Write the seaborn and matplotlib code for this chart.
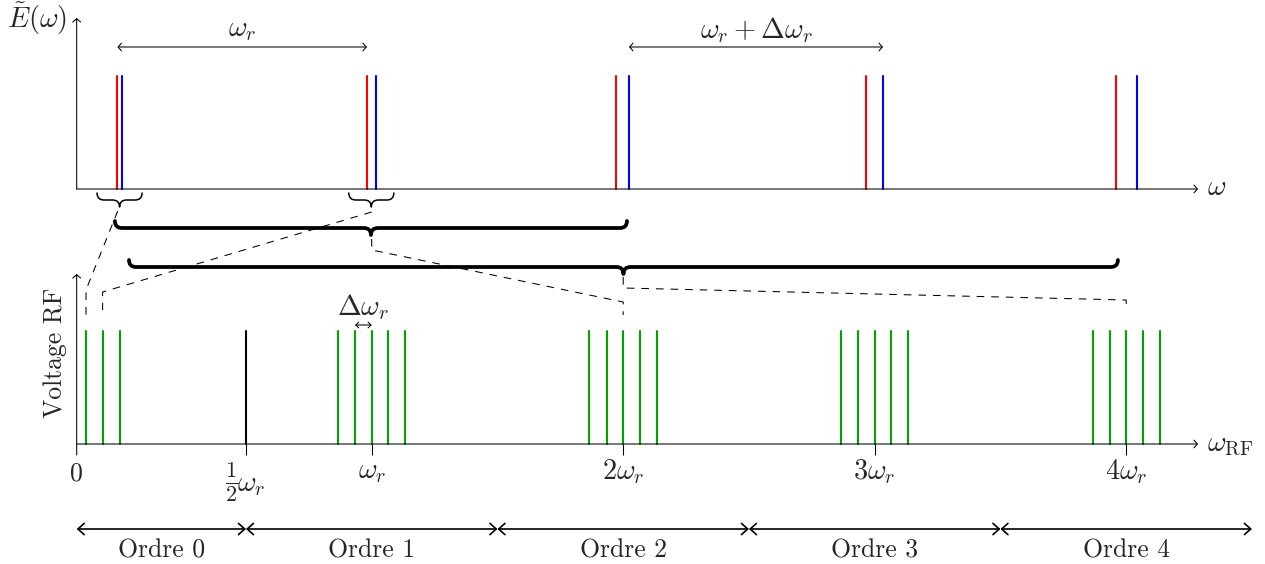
import numpy as np
import pandas as pd
import seaborn as sns
import matplotlib
matplotlib.use("Agg")
import matplotlib.pyplot as plt
from matplotlib.path import Path
from matplotlib.patches import PathPatch

# ---------------- data (frequencies in units of omega_r) ----------------
red_comb = [-0.011, 0.981, 1.971, 2.967, 3.959]
blue_comb = [0.007, 1.016, 2.023, 3.033, 4.042]
red_amp = [1, 1, 1, 1, 1]
blue_amp = [1, 1, 1, 1, 1]

rf_green = [-0.136, -0.070, -0.002,
            0.866, 0.934, 1.000, 1.066, 1.133,
            1.866, 1.934, 2.000, 2.066, 2.133,
            2.866, 2.934, 3.000, 3.066, 3.133,
            3.868, 3.934, 4.000, 4.067, 4.133]
rf_black = [0.5]
rf_amp = 1.0

tick_pos = [-0.173, 0.5, 1.0, 2.0, 3.0, 4.0]
tick_labels = ["0", r"$\frac{1}{2}\omega_r$", r"$\omega_r$", r"$2\omega_r$",
               r"$3\omega_r$", r"$4\omega_r$"]

order_bounds = [-0.173, 0.5, 1.5, 2.5, 3.5, 4.5]
order_labels = ["Ordre 0", "Ordre 1", "Ordre 2", "Ordre 3", "Ordre 4"]

# braces: left, right (omega_r units), top level (px), amplitude (px), width
brace_left = [-0.092, 0.909, -0.021, 0.035]
brace_right = [0.087, 1.088, 2.015, 3.967]
brace_top = [193, 193, 221, 260]
brace_amp = [14, 14, 14, 14]
brace_lw = [1.1, 1.1, 2.7, 2.7]

# dashed connectors (omega_r units, px)
dash_x = [[-0.010, -0.136, -0.136],
          [1.000, -0.070, -0.070],
          [1.000, 1.000, 2.000, 2.000],
          [2.000, 2.000, 4.000, 4.000]]
dash_y = [[211, 290, 316],
          [212, 292, 310],
          [239, 250, 302, 315],
          [277, 288, 300, 310]]

# ---------------- layout ----------------
W, H = 1265, 564
ZERO_PX = 120.2
PX_PER_WR = 251.5
TOP_BASE = 189
BOT_BASE = 444
LINE_H = 113
FS = 18.5      # roman text
FSM = 20.5     # math text


def px2w(px):
    return (px - ZERO_PX) / PX_PER_WR


sns.set_theme(style="white")
plt.rcParams["font.family"] = ["cmr10", "DejaVu Serif"]
plt.rcParams["mathtext.fontset"] = "cm"
plt.rcParams["axes.unicode_minus"] = False
plt.rcParams["axes.formatter.use_mathtext"] = True
plt.rcParams["lines.scale_dashes"] = False

fig = plt.figure(figsize=(W / 100, H / 100), dpi=100)
ax = fig.add_axes([0, 0, 1, 1])

# combs via seaborn
rows = []
for i, (w, a) in enumerate(zip(red_comb, red_amp)):
    rows += [dict(x=w, y=TOP_BASE, comb="red", id=f"r{i}"),
             dict(x=w, y=TOP_BASE - LINE_H * a, comb="red", id=f"r{i}")]
for i, (w, a) in enumerate(zip(blue_comb, blue_amp)):
    rows += [dict(x=w, y=TOP_BASE, comb="blue", id=f"b{i}"),
             dict(x=w, y=TOP_BASE - LINE_H * a, comb="blue", id=f"b{i}")]
for i, w in enumerate(rf_green):
    rows += [dict(x=w, y=BOT_BASE, comb="green", id=f"g{i}"),
             dict(x=w, y=BOT_BASE - LINE_H * rf_amp, comb="green", id=f"g{i}")]
for i, w in enumerate(rf_black):
    rows += [dict(x=w, y=BOT_BASE, comb="black", id=f"k{i}"),
             dict(x=w, y=BOT_BASE - LINE_H * rf_amp, comb="black", id=f"k{i}")]
df = pd.DataFrame(rows)
palette = {"red": "#ff0000", "blue": "#0000ff", "green": "#00a300", "black": "#000000"}
sns.lineplot(data=df, x="x", y="y", hue="comb", units="id", estimator=None,
             sort=False, palette=palette, linewidth=1.5, legend=False, ax=ax)

ax.set_xlim(px2w(0), px2w(W))
ax.set_ylim(H, 0)
ax.axis("off")


def arrow(x0, y0, x1, y1, style="->", lw=0.75, hl=0.3, hw=0.35, ms=8):
    ax.annotate("", xy=(x1, y1), xytext=(x0, y0),
                arrowprops=dict(arrowstyle=f"{style},head_length={hl},head_width={hw}",
                                lw=lw, color="black", shrinkA=0, shrinkB=0,
                                mutation_scale=ms))


ox = tick_pos[0]
# top axes
arrow(ox, TOP_BASE, px2w(1198), TOP_BASE)
arrow(ox, TOP_BASE, ox, 18)
# bottom axes
arrow(ox, BOT_BASE, px2w(1198), BOT_BASE)
arrow(ox, 455, ox, 274)
ax.vlines(tick_pos[1:], BOT_BASE, 455, color="black", lw=0.75)

# axis labels
ax.text(px2w(37), 19, r"$\tilde{E}(\omega)$", fontsize=FSM, ha="center", va="center")
ax.text(px2w(1207), TOP_BASE - 1, r"$\omega$", fontsize=FSM, ha="left", va="center")
ax.text(px2w(1207), BOT_BASE + 1, r"$\omega_{\mathrm{RF}}$", fontsize=FSM, ha="left", va="center")
ax.text(px2w(55), 353, "Voltage RF", fontsize=FS, rotation=90, ha="center", va="center")

# tick labels
for p, lab in zip(tick_pos, tick_labels):
    if "frac" in lab:
        num_den = lab.split(r"\omega")[0] + "$"
        ax.text(p - 14 / PX_PER_WR, 482, num_den, fontsize=23, ha="center", va="center")
        ax.text(p - 8.5 / PX_PER_WR, 485, r"$\omega_r$", fontsize=FSM, ha="left", va="center")
    elif lab == "0":
        ax.text(p, 474, lab, fontsize=FS, ha="center", va="center")
    else:
        ax.text(p, 472, lab, fontsize=FSM, ha="center", va="center")

# spacing arrows on top
arrow(red_comb[0], 47, red_comb[1], 47, style="<->")
ax.text((red_comb[0] + red_comb[1]) / 2, 30, r"$\omega_r$", fontsize=FSM, ha="center", va="center")
arrow(blue_comb[2], 47, blue_comb[3], 47, style="<->")
ax.text((blue_comb[2] + blue_comb[3]) / 2, 30, r"$\omega_r + \Delta\omega_r$",
        fontsize=FSM, ha="center", va="center")

# delta omega arrow
arrow(rf_green[4], 325, rf_green[5], 325, style="<->", hl=0.3, hw=0.3, ms=7)
ax.text((rf_green[4] + rf_green[5]) / 2, 307, r"$\Delta\omega_r$", fontsize=FSM,
        ha="center", va="center")


# braces
def brace(x1, x2, y0, a, lw):
    r = (a / 2) / PX_PER_WR
    ym = y0 + a / 2
    xc = (x1 + x2) / 2
    verts = [(x1, y0), (x1, ym), (x1 + r, ym),
             (xc - r, ym),
             (xc, ym), (xc, y0 + a),
             (xc, ym), (xc + r, ym),
             (x2 - r, ym),
             (x2, ym), (x2, y0)]
    codes = [Path.MOVETO, Path.CURVE3, Path.CURVE3,
             Path.LINETO,
             Path.CURVE3, Path.CURVE3,
             Path.CURVE3, Path.CURVE3,
             Path.LINETO,
             Path.CURVE3, Path.CURVE3]
    ax.add_patch(PathPatch(Path(verts, codes), fill=False, lw=lw, ec="black",
                           capstyle="round", joinstyle="round"))


for x1, x2, y0, a, lw in zip(brace_left, brace_right, brace_top, brace_amp, brace_lw):
    brace(x1, x2, y0, a, lw)

# dashed connectors
for xs, ys in zip(dash_x, dash_y):
    ax.plot(xs, ys, color="black", lw=0.75, linestyle=(0, (5.5, 5.0)))

# order arrows
for i in range(len(order_labels)):
    a0, a1 = order_bounds[i], order_bounds[i + 1]
    arrow(a0, 529, a1, 529, style="<->", lw=1.2, hl=0.5, hw=0.45, ms=9)
    ax.text((a0 + a1) / 2, 551, order_labels[i], fontsize=FS, ha="center", va="center")

fig.savefig("out.png", dpi=100, facecolor="white")
